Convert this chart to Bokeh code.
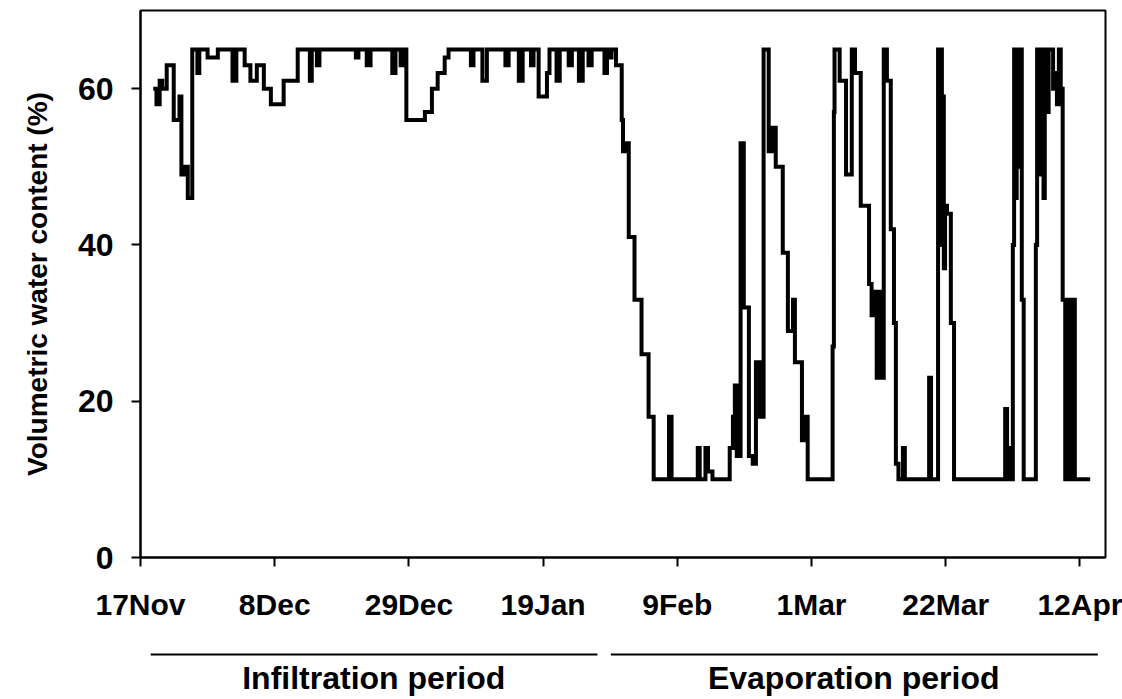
from bokeh.plotting import figure
from bokeh.models import Range1d, FixedTicker
from bokeh.layouts import column
from bokeh.core.properties import value
from bokeh.embed import file_html
from bokeh.resources import INLINE

# ---------------- data (days since 17 Nov, volumetric water content %) ----------------
day = [2.0, 2.5, 3.0, 3.4, 4.1, 5.2, 6.1, 6.4, 6.9, 7.4, 8.1, 8.9, 9.2, 10.5, 12.1, 14.4, 15.0,
       16.3, 17.2, 18.2, 19.3, 20.4, 22.4, 24.6, 26.5, 26.8, 27.6, 28.0, 33.7, 34.1, 35.4, 36.0,
       39.4, 39.9, 40.7, 41.2, 41.6, 44.5, 45.6, 46.5, 47.6, 48.2, 51.7, 52.1, 53.5, 54.2, 57.1,
       57.6, 59.2, 59.8, 61.1, 61.5, 62.3, 63.6, 64.0, 65.1, 65.6, 67.0, 67.5, 68.6, 69.2, 70.1,
       70.6, 72.6, 73.0, 73.4, 73.7, 74.4, 75.3, 75.5, 75.8, 76.4, 77.3, 78.4, 79.5, 80.3, 82.7,
       83.1, 87.2, 87.5, 88.4, 88.8, 89.5, 92.2, 92.7, 93.0, 93.3, 93.9, 94.4, 95.2, 95.8, 96.3,
       96.6, 96.9, 97.2, 97.5, 98.3, 98.9, 99.4, 100.5, 101.3, 102.1, 102.4, 103.5, 104.1, 104.4,
       108.3, 108.5, 108.6, 109.4, 110.4, 111.3, 111.8, 112.7, 114.0, 114.4, 114.9, 115.2, 115.8,
       116.0, 116.3, 116.8, 117.4, 117.9, 118.2, 118.6, 119.3, 119.6, 123.4, 123.7, 124.8, 125.1,
       125.2, 125.4, 125.7, 125.9, 126.2, 126.8, 127.3, 135.3, 135.6, 135.9, 136.5, 136.7, 137.0,
       137.1, 137.4, 137.6, 137.9, 138.2, 140.1, 140.3, 140.7, 140.9, 141.3, 141.5, 141.9, 142.1,
       142.8, 143.1, 143.4, 143.7, 144.0, 144.3, 144.7, 145.1, 145.4, 145.9, 146.2, 148.6]
vwc = [60, 58, 61, 60, 63, 56, 59, 49, 50, 46, 65, 62, 65, 64, 65, 61, 65,
       63, 61, 63, 60, 58, 61, 65, 61, 65, 63, 65, 64, 65, 63, 65,
       62, 65, 63, 65, 56, 57, 60, 62, 64, 65, 63, 65, 61, 65, 63,
       65, 61, 65, 63, 65, 59, 62, 65, 61, 65, 63, 65, 61, 65, 63,
       65, 62, 65, 64, 65, 63, 56, 52, 53, 41, 33, 26, 18, 10, 18,
       10, 14, 10, 14, 11, 10, 14, 18, 22, 13, 53, 32, 13, 12, 25,
       18, 25, 18, 65, 52, 55, 50, 39, 29, 33, 25, 15, 18, 10,
       27, 57, 65, 61, 49, 65, 62, 45, 35, 31, 34, 23, 34,
       23, 65, 61, 42, 30, 12, 10, 14, 10, 23, 10, 65, 40,
       65, 59, 37, 45, 44, 30, 10, 19, 14, 10, 40, 65, 46,
       65, 50, 65, 33, 10, 40, 65, 49, 65, 46, 65, 57, 65,
       60, 62, 58, 65, 60, 33, 10, 33, 10, 33, 10, 10]

tick_days = [0, 21, 42, 63, 84, 105, 126, 147]
tick_labels = ["17Nov", "8Dec", "29Dec", "19Jan", "9Feb", "1Mar", "22Mar", "12Apr"]
y_ticks = [0, 20, 40, 60]
period_names = ["Infiltration period", "Evaporation period"]
period_start = [1.6, 73.6]
period_end = [71.5, 149.8]
period_mid = [36.5, 111.6]

FONT = "Liberation Sans"
W, H1, H2 = 1122, 637, 62

x_range = Range1d(0, 151)

p = figure(width=W, height=H1, output_backend="svg", toolbar_location=None,
           x_range=x_range, y_range=Range1d(0, 70),
           min_border_left=140, min_border_right=17, min_border_top=10,
           min_border_bottom=80)

p.step(day, vwc, mode="after", line_width=4, line_color="black", line_join="miter")

p.grid.visible = False
p.outline_line_color = "black"
p.outline_line_width = 2
p.outline_line_alpha = 1.0

xa = p.xaxis[0]
xa.ticker = FixedTicker(ticks=tick_days)
xa.major_label_overrides = {d: l for d, l in zip(tick_days, tick_labels)}
xa.minor_tick_line_color = None
xa.major_tick_in = 0
xa.major_tick_out = 9
xa.major_tick_line_width = 2
xa.axis_line_width = 2
xa.major_label_standoff = 21
xa.major_label_text_font = FONT
xa.major_label_text_font_style = "bold"
xa.major_label_text_font_size = "30px"
xa.major_label_text_color = "black"

ya = p.yaxis[0]
ya.ticker = FixedTicker(ticks=y_ticks)
ya.minor_tick_line_color = None
ya.major_tick_in = 0
ya.major_tick_out = 9
ya.major_tick_line_width = 2
ya.axis_line_width = 2
ya.major_label_standoff = 18
ya.major_label_text_font = FONT
ya.major_label_text_font_style = "bold"
ya.major_label_text_font_size = "32px"
ya.major_label_text_color = "black"
ya.axis_label = "Volumetric water content (%)"
ya.axis_label_text_font = FONT
ya.axis_label_text_font_style = "bold"
ya.axis_label_text_font_size = "28px"
ya.axis_label_text_color = "black"
ya.axis_label_standoff = 22

# lower strip: period underlines and names on the same day scale
p2 = figure(width=W, height=H2, output_backend="svg", toolbar_location=None,
            x_range=x_range, y_range=Range1d(0, H2),
            min_border_left=140, min_border_right=17, min_border_top=0, min_border_bottom=0,
            x_axis_type=None, y_axis_type=None)
p2.grid.visible = False
p2.outline_line_color = None
p2.segment(x0=period_start, y0=[45, 45], x1=period_end, y1=[45, 45],
           line_width=2, line_color="black")
p2.text(x=period_mid, y=[22, 22], text=period_names, text_align="center",
        text_baseline="alphabetic", text_font=value(FONT), text_font_style="bold",
        text_font_size="32px", text_color="black")

layout = column(p, p2, spacing=0)
open("out.html", "w").write(file_html(layout, INLINE))
